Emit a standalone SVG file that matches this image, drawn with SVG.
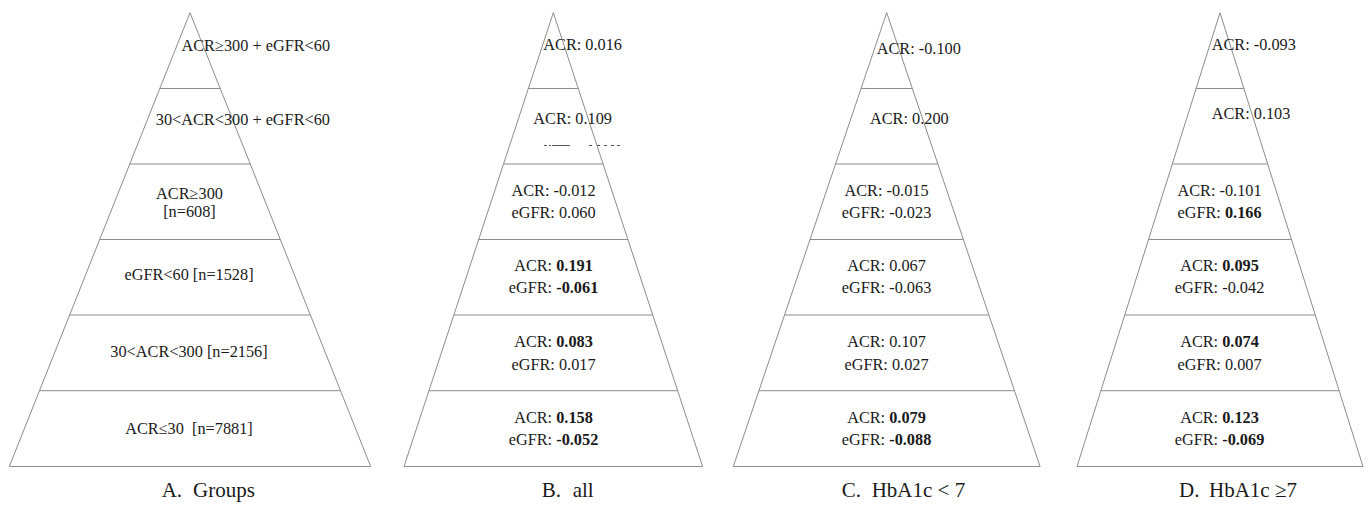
<svg xmlns="http://www.w3.org/2000/svg" width="1368" height="513" viewBox="0 0 1368 513">
<style>
.edge{fill:none;stroke:#8c8c8c;stroke-width:1}
.sep{stroke:#8c8c8c;stroke-width:1}
text{font-family:"Liberation Serif","Times New Roman",serif;fill:#1a1a1a}
.t{font-size:16.3px}
.m{text-anchor:middle}
.e{text-anchor:end}
.b{font-weight:bold}
.cap{font-size:21px}
.frag{fill:#555}
</style>
<rect width="1368" height="513" fill="#ffffff"/>

<!-- Pyramid A -->
<g id="pyramid-A">
  <polygon class="edge" points="190,12.7 9.3,466.5 370.7,466.5"/>
  <g id="A-separators">
    <line class="sep" x1="159.8" y1="88.5" x2="220.2" y2="88.5"/>
    <line class="sep" x1="129.7" y1="164" x2="250.3" y2="164"/>
    <line class="sep" x1="99.6" y1="239.5" x2="280.4" y2="239.5"/>
    <line class="sep" x1="69.5" y1="315" x2="310.5" y2="315"/>
    <line class="sep" x1="39.3" y1="390.7" x2="340.7" y2="390.7"/>
  </g>
  <g id="A-t1"><text class="t" x="181.5" y="50.7">ACR≥300 + eGFR&lt;60</text></g>
  <g id="A-t2"><text class="t e" x="330" y="125">30&lt;ACR&lt;300 + eGFR&lt;60</text></g>
  <g id="A-t3"><text class="t m" x="189.5" y="199">ACR≥300</text><text class="t m" x="189.5" y="216.5">[n=608]</text></g>
  <g id="A-t4"><text class="t m" x="189" y="280">eGFR&lt;60 [n=1528]</text></g>
  <g id="A-t5"><text class="t m" x="189" y="356.7">30&lt;ACR&lt;300 [n=2156]</text></g>
  <g id="A-t6"><text class="t m" x="189" y="434" style="white-space:pre">ACR≤30  [n=7881]</text></g>
  <g id="A-caption"><text class="cap" x="161.7" y="497">A.<tspan x="193">Groups</tspan></text></g>
</g>

<!-- Pyramid B -->
<g id="pyramid-B">
  <polygon class="edge" points="553.3,12.7 404,466.5 702.6,466.5"/>
  <g id="B-separators">
    <line class="sep" x1="528.4" y1="88.5" x2="578.2" y2="88.5"/>
    <line class="sep" x1="503.5" y1="164" x2="603.1" y2="164"/>
    <line class="sep" x1="478.7" y1="239.5" x2="627.9" y2="239.5"/>
    <line class="sep" x1="453.9" y1="315" x2="652.7" y2="315"/>
    <line class="sep" x1="429" y1="390.7" x2="677.6" y2="390.7"/>
  </g>
  <g id="B-t1"><text class="t" x="543.3" y="50">ACR: 0.016</text></g>
  <g id="B-t2"><text class="t" x="533.3" y="124">ACR: 0.109</text>
    <g class="frag">
      <rect x="544" y="145" width="3" height="1"/><rect x="549" y="145" width="2" height="1"/><rect x="552" y="145" width="18" height="1"/>
      <rect x="589" y="145" width="3" height="1"/><rect x="597" y="145" width="3" height="1"/><rect x="604" y="145" width="3" height="1"/><rect x="611" y="145" width="3" height="1"/><rect x="617" y="145" width="3" height="1"/>
    </g>
  </g>
  <g id="B-t3"><text class="t m" x="553.5" y="196">ACR: -0.012</text><text class="t m" x="553.5" y="218">eGFR: 0.060</text></g>
  <g id="B-t4"><text class="t m" x="553.5" y="270.7">ACR: <tspan class="b">0.191</tspan></text><text class="t m" x="553.5" y="293.3">eGFR: <tspan class="b">-0.061</tspan></text></g>
  <g id="B-t5"><text class="t m" x="553.5" y="347.3">ACR: <tspan class="b">0.083</tspan></text><text class="t m" x="553.5" y="370">eGFR: 0.017</text></g>
  <g id="B-t6"><text class="t m" x="553.5" y="422.7">ACR: <tspan class="b">0.158</tspan></text><text class="t m" x="553.5" y="444.7">eGFR: <tspan class="b">-0.052</tspan></text></g>
  <g id="B-caption"><text class="cap" x="541.7" y="497">B.<tspan x="572.7">all</tspan></text></g>
</g>

<!-- Pyramid C -->
<g id="pyramid-C">
  <polygon class="edge" points="886.7,12.7 733.3,466.5 1040.1,466.5"/>
  <g id="C-separators">
    <line class="sep" x1="861.1" y1="88.5" x2="912.3" y2="88.5"/>
    <line class="sep" x1="835.6" y1="164" x2="937.8" y2="164"/>
    <line class="sep" x1="810.1" y1="239.5" x2="963.3" y2="239.5"/>
    <line class="sep" x1="784.5" y1="315" x2="988.9" y2="315"/>
    <line class="sep" x1="758.9" y1="390.7" x2="1014.5" y2="390.7"/>
  </g>
  <g id="C-t1"><text class="t" x="876.7" y="54">ACR: -0.100</text></g>
  <g id="C-t2"><text class="t" x="870" y="124">ACR: 0.200</text></g>
  <g id="C-t3"><text class="t m" x="886.5" y="196">ACR: -0.015</text><text class="t m" x="886.5" y="218">eGFR: -0.023</text></g>
  <g id="C-t4"><text class="t m" x="886.5" y="270.7">ACR: 0.067</text><text class="t m" x="886.5" y="293.3">eGFR: -0.063</text></g>
  <g id="C-t5"><text class="t m" x="886.5" y="347.3">ACR: 0.107</text><text class="t m" x="886.5" y="370">eGFR: 0.027</text></g>
  <g id="C-t6"><text class="t m" x="886.5" y="422.7">ACR: <tspan class="b">0.079</tspan></text><text class="t m" x="886.5" y="444.7">eGFR: <tspan class="b">-0.088</tspan></text></g>
  <g id="C-caption"><text class="cap" x="841.7" y="497">C.<tspan x="871.7">HbA1c &lt; 7</tspan></text></g>
</g>

<!-- Pyramid D -->
<g id="pyramid-D">
  <polygon class="edge" points="1220,12.7 1077,466.5 1363,466.5"/>
  <g id="D-separators">
    <line class="sep" x1="1196.1" y1="88.5" x2="1243.9" y2="88.5"/>
    <line class="sep" x1="1172.3" y1="164" x2="1267.7" y2="164"/>
    <line class="sep" x1="1148.6" y1="239.5" x2="1291.4" y2="239.5"/>
    <line class="sep" x1="1124.8" y1="315" x2="1315.2" y2="315"/>
    <line class="sep" x1="1100.9" y1="390.7" x2="1339.1" y2="390.7"/>
  </g>
  <g id="D-t1"><text class="t" x="1211.7" y="50">ACR: -0.093</text></g>
  <g id="D-t2"><text class="t" x="1211.7" y="119.3">ACR: 0.103</text></g>
  <g id="D-t3"><text class="t m" x="1219.5" y="196">ACR: -0.101</text><text class="t m" x="1219.5" y="218">eGFR: <tspan class="b">0.166</tspan></text></g>
  <g id="D-t4"><text class="t m" x="1219.5" y="270.7">ACR: <tspan class="b">0.095</tspan></text><text class="t m" x="1219.5" y="293.3">eGFR: -0.042</text></g>
  <g id="D-t5"><text class="t m" x="1219.5" y="347.3">ACR: <tspan class="b">0.074</tspan></text><text class="t m" x="1219.5" y="370">eGFR: 0.007</text></g>
  <g id="D-t6"><text class="t m" x="1219.5" y="422.7">ACR: <tspan class="b">0.123</tspan></text><text class="t m" x="1219.5" y="444.7">eGFR: <tspan class="b">-0.069</tspan></text></g>
  <g id="D-caption"><text class="cap" x="1179" y="497">D.<tspan x="1209">HbA1c ≥7</tspan></text></g>
</g>
</svg>
